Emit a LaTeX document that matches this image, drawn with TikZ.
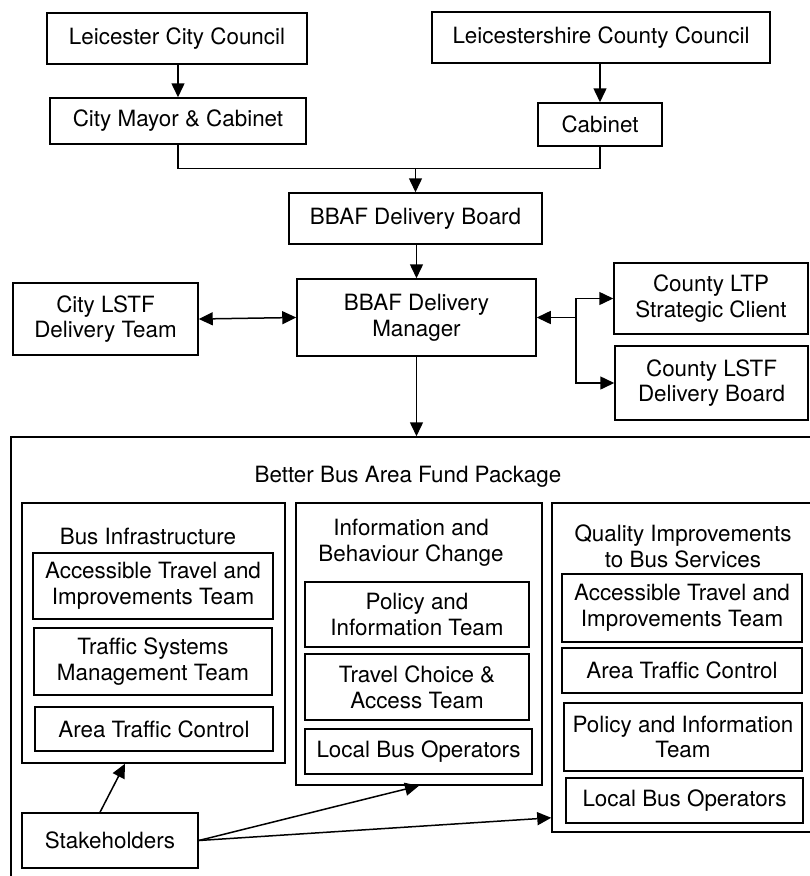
\documentclass[tikz,border=0pt]{standalone}
\usepackage{fontspec}
\setmainfont{TeX Gyre Heros}
\usetikzlibrary{arrows.meta,calc,positioning}
\tikzset{
  bx/.style={draw=black,fill=white,line width=1.5pt,inner sep=0pt,align=center,
    font=\fontsize{22.4}{25.7}\selectfont},
  sz/.style 2 args={minimum width=#1pt,minimum height=#2pt},
  pnl/.style={draw=black,line width=1.5pt,inner sep=0pt},
  ttl/.style={align=center,inner sep=0pt,font=\fontsize{22.4}{26.5}\selectfont},
  lnk/.style={draw=black,line width=1.5pt},
  arr/.style={-{Triangle[length=14pt,width=13pt]},line width=1.5pt,draw=black},
  darr/.style={{Triangle[length=14pt,width=13pt]}-{Triangle[length=14pt,width=13pt]},line width=1.5pt,draw=black},
}
\begin{document}
\begin{tikzpicture}[x=1pt,y=-1pt]
\fill[white] (0,0) rectangle (810,876);
\useasboundingbox (0,0) rectangle (810,876);
% ============================= councils and cabinets
\node[bx,sz={260}{51}] (lcc) at (177,38.5) {Leicester City Council};
\node[bx,sz={338}{51}] (lscc) at (601,37.5) {Leicestershire County Council};
\node[bx,sz={256}{46}] (mayor) at (178,121) {City Mayor \& Cabinet};
\node[bx,sz={124}{43}] (cab) at (600,124.5) {Cabinet};
\draw[arr] (lcc.south -| mayor.north) -- (mayor.north);
\draw[arr] (lscc.south -| cab.north) -- (cab.north);
% ============================= board and manager
\node[bx,sz={253}{51}] (board) at (415.5,218.5) {BBAF Delivery Board};
\coordinate (jn) at ([yshift=24pt]board.north);
\draw[lnk] (mayor.south) |- (jn);
\draw[lnk] (cab.south) |- (jn);
\draw[arr] (jn) -- (board.north);
\node[bx,sz={239}{77}] (mgr) at (416.5,317.5) {BBAF Delivery\\ Manager};
\draw[arr] (board.south -| mgr.north) -- (mgr.north);
\node[bx,sz={185}{72}] (citylstf) at (105.5,319) {City LSTF\\ Delivery Team};
\draw[darr] (citylstf.east) -- (mgr.west);
\node[bx,sz={194}{71}] (ltp) at (711,298.5) {County LTP\\ Strategic Client};
\node[bx,sz={193}{74}] (cntylstf) at (711.5,383) {County LSTF\\ Delivery Board};
\coordinate (fk) at ([xshift=39pt]mgr.east);
\draw[arr] (fk) -- (mgr.east);
\draw[arr] (fk) |- (ltp.west);
\draw[arr] (fk) |- (cntylstf.west);
% ============================= fund package
\node[pnl,sz={801}{443}] (pkg) at (411.5,658.5) {};
\node[ttl] (pkgt) at (408,477) {Better Bus Area Fund Package};
\draw[arr] (mgr.south) -- (mgr.south |- pkg.north);
% bus infrastructure
\node[pnl,sz={263}{260}] (infra) at (153.5,633) {};
\node[ttl] (infrat) at (148,536) {Bus Infrastructure};
\node[bx,sz={240}{66}] (infa) at (153,586) {Accessible Travel and\\ Improvements Team};
\node[bx,sz={238}{67}] (infb) at (153,661.5) {Traffic Systems\\ Management Team};
\node[bx,sz={238}{44}] (infc) at (154,729) {Area Traffic Control};
% information and behaviour change
\node[pnl,sz={246}{282}] (info) at (419,644) {};
\node[ttl] (infot) at (411,542.5) {Information and\\ Behaviour Change};
\node[bx,sz={224}{65}] (infoa) at (417,614.5) {Policy and\\ Information Team};
\node[bx,sz={224}{66}] (infob) at (417,687) {Travel Choice \&\\ Access Team};
\node[bx,sz={227}{45}] (infoc) at (418.5,751.5) {Local Bus Operators};
% quality improvements
\node[pnl,sz={260}{329}] (qual) at (682,667.5) {};
\node[ttl] (qualt) at (683,546.5) {Quality Improvements\\ to Bus Services};
\node[bx,sz={240}{68}] (quala) at (682,608) {Accessible Travel and\\ Improvements Team};
\node[bx,sz={240}{45}] (qualb) at (682,670.5) {Area Traffic Control};
\node[bx,sz={238}{68}] (qualc) at (683,737) {Policy and Information\\ Team};
\node[bx,sz={237}{45}] (quald) at (684.5,800.5) {Local Bus Operators};
% stakeholders
\node[bx,sz={176}{55}] (stake) at (110,840.5) {Stakeholders};
\draw[arr] ([xshift=-10pt]stake.north) -- ([xshift=-28.5pt]infra.south);
\draw[arr] (stake.east) -- (info.south);
\draw[arr] (stake.east) -- ([yshift=15pt]qual.south west);
\end{tikzpicture}
\end{document}
